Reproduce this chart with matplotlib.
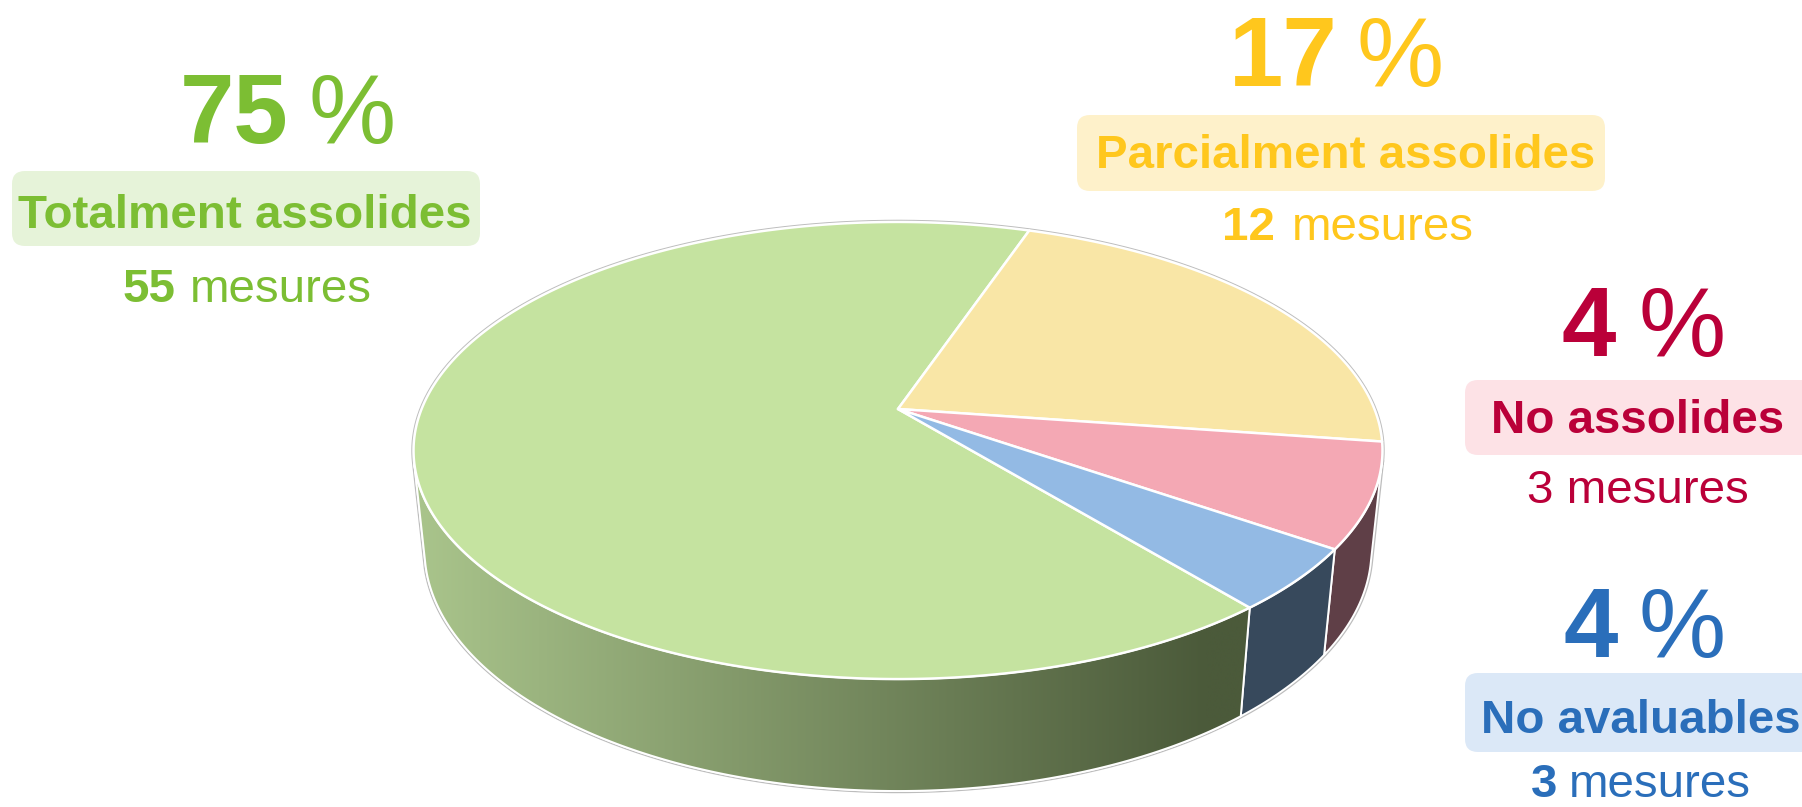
import numpy as np
import matplotlib
matplotlib.use("Agg")
import matplotlib.pyplot as plt
from matplotlib.patches import Polygon, FancyBboxPatch
from matplotlib import font_manager as fm
from matplotlib.colors import to_rgb

# ---------------- data ----------------
categories = ["Totalment assolides", "Parcialment assolides", "No assolides", "No avaluables"]
pct_labels = ["75", "17", "4", "4"]
count_labels = ["55", "12", "3", "3"]
count_bold = [True, True, False, True]
# relative slice sizes as drawn in the 3D pie
pie_values = [45, 15, 5, 3]

top_colors = ["#C5E3A0", "#F9E6A6", "#F4A8B4", "#93BAE4"]
side_colors = ["#8FA772", "#6E6440", "#5F3F47", "#37495C"]
text_colors = ["#7CBE33", "#FFC71D", "#BA0039", "#2A6EBA"]
box_colors = ["#E6F3D9", "#FEF1CA", "#FDE2E6", "#DBE8F7"]

# ---------------- fonts ----------------
avail = {f.name for f in fm.fontManager.ttflist}
MAIN = "Liberation Sans" if "Liberation Sans" in avail else "DejaVu Sans"

W, H = 1802, 807
fig = plt.figure(figsize=(W / 100, H / 100), dpi=100)
ax = fig.add_axes([0, 0, 1, 1])
ax.set_xlim(0, W)
ax.set_ylim(H, 0)
ax.axis("off")

# ---------------- 3D pie projection ----------------
CX, CY = 898.0, 409.0
FOC = 2324.0
DIST = 4.878
TILT = np.radians(27.64)
cT, sT = np.cos(TILT), np.sin(TILT)
DEPTH = 0.2375


def proj(phi, z):
    x = np.cos(phi)
    y = np.sin(phi)
    d = DIST + y * cT - z * sT
    up = y * sT + z * cT
    return CX + FOC * x / d, CY - FOC * up / d


# slice angles (clockwise, starting angle in the pie plane)
start = np.radians(-50.6)
fr = np.array(pie_values, float) / np.sum(pie_values)
bounds = start - np.concatenate([[0], np.cumsum(fr)]) * 2 * np.pi  # decreasing
# visible side range
svis = -1.0 / (DIST * cT)
vis_hi = np.arcsin(svis)            # about -13 deg
vis_lo = -np.pi - vis_hi            # about -167 deg

# outer silhouette (gray) drawn beneath everything
back = np.linspace(vis_hi, vis_lo + 2 * np.pi, 400)
bx, by = proj(back, 0.0)
front = np.linspace(vis_lo, vis_hi, 400)
fx, fy = proj(front, -DEPTH)
ox = np.concatenate([bx, fx, bx[:1]])
oy = np.concatenate([by, fy, by[:1]])
ax.plot(ox, oy, color="#BDBDBD", lw=3.2, zorder=1, solid_joinstyle="round")

# side faces
light = np.array(to_rgb("#AAC58C"))
dark = np.array(to_rgb("#4B5A3A"))
for i in range(len(pie_values)):
    a1, a2 = bounds[i + 1], bounds[i]  # a1 < a2
    for k in (-1, 0, 1):
        lo = max(a1 + 2 * np.pi * k, vis_lo)
        hi = min(a2 + 2 * np.pi * k, vis_hi)
        if hi <= lo:
            continue
        ang = np.linspace(lo, hi, 300)
        tx, ty = proj(ang, 0.0)
        bx2, by2 = proj(ang[::-1], -DEPTH)
        px = np.concatenate([tx, bx2])
        py = np.concatenate([ty, by2])
        poly = Polygon(np.column_stack([px, py]), closed=True,
                       facecolor=side_colors[i], edgecolor="white", lw=1.4, zorder=2)
        ax.add_patch(poly)
        if i == 0:
            xs = np.linspace(px.min(), px.max(), 600)
            t = np.clip((xs - 413) / (1206 - 413), 0, 1)[:, None]
            img = (light * (1 - t) + dark * t)[None, :, :]
            im = ax.imshow(img, extent=(px.min(), px.max(), py.max(), py.min()),
                           aspect="auto", zorder=2.1, interpolation="bilinear")
            im.set_clip_path(poly)
            edge = Polygon(np.column_stack([px, py]), closed=True, fill=False,
                           edgecolor="white", lw=1.4, zorder=2.2)
            ax.add_patch(edge)

# top faces
for i in range(len(pie_values)):
    a1, a2 = bounds[i + 1], bounds[i]
    ang = np.linspace(a2, a1, 600)
    tx, ty = proj(ang, 0.0)
    px = np.concatenate([[CX], tx])
    py = np.concatenate([[CY], ty])
    ax.add_patch(Polygon(np.column_stack([px, py]), closed=True,
                         facecolor=top_colors[i], edgecolor="white", lw=1.8,
                         joinstyle="round", zorder=3))

# ---------------- labels ----------------
BIG = 70.5
MID = 34.2

# (num_right, pct_left, baseline) for the big percentage
pct_pos = [(289, 309, 143), (1338, 1356, 86), (1616, 1638, 356), (1618, 1638, 657)]
# box: x0, y0, x1, y1
boxes = [(12, 171, 480, 246), (1077, 115, 1605, 191), (1465, 380, 1815, 455), (1465, 673, 1815, 752)]
# box label center x, baseline
box_text = [(245, 228), (1346, 168), (1638, 433), (1641, 733)]
# count line: number right, word left, baseline  (non-bold: single centred string)
cnt_pos = [(175, 190, 302), (1275, 1292, 240), (1638, None, 503), (1557, 1569, 797)]

for i in range(4):
    fam = MAIN
    col = text_colors[i]
    nr, pl, bl = pct_pos[i]
    ax.text(nr, bl, pct_labels[i], ha="right", va="baseline", fontsize=BIG,
            fontweight="bold", color=col, family=fam, zorder=5)
    ax.text(pl, bl, "%", ha="left", va="baseline", fontsize=BIG,
            fontweight="normal", color=col, family=fam, zorder=5)

    x0, y0, x1, y1 = boxes[i]
    ax.add_patch(FancyBboxPatch((x0, y0), x1 - x0, y1 - y0,
                                boxstyle="round,pad=0,rounding_size=13",
                                facecolor=box_colors[i], edgecolor="none", zorder=4))
    cx, cb = box_text[i]
    ax.text(cx, cb, categories[i], ha="center", va="baseline", fontsize=MID,
            fontweight="bold", color=col, family=fam, zorder=5)

    nr, wl, bl = cnt_pos[i]
    if count_bold[i]:
        ax.text(nr, bl, count_labels[i], ha="right", va="baseline", fontsize=MID,
                fontweight="bold", color=col, family=fam, zorder=5)
        ax.text(wl, bl, "mesures", ha="left", va="baseline", fontsize=MID,
                fontweight="normal", color=col, family=fam, zorder=5)
    else:
        ax.text(nr, bl, count_labels[i] + " mesures", ha="center", va="baseline",
                fontsize=MID, fontweight="normal", color=col, family=fam, zorder=5)

ax.set_xlim(0, W)
ax.set_ylim(H, 0)
fig.savefig("out.png", dpi=100, facecolor="white")
